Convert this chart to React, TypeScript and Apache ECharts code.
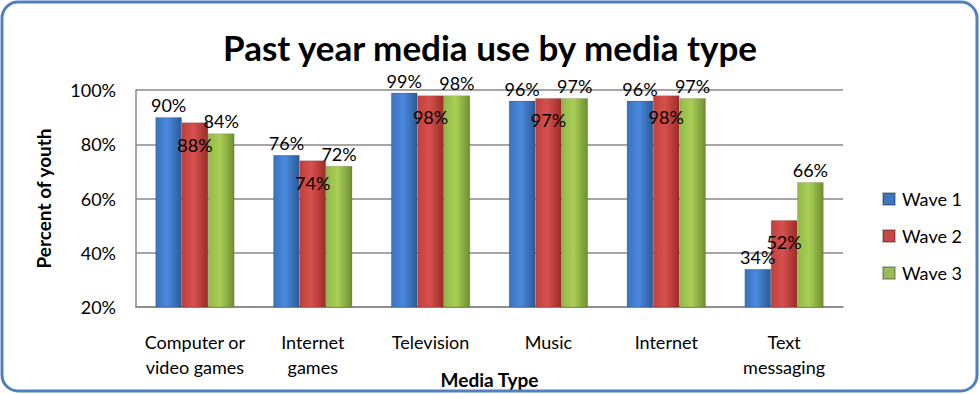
import React, { useEffect, useRef } from "react";
import * as echarts from "echarts";

const categories = ["Computer or\nvideo games", "Internet\ngames", "Television", "Music", "Internet", "Text\nmessaging"];
const wave1 = [90, 76, 99, 96, 96, 34];
const wave2 = [88, 74, 98, 97, 98, 52];
const wave3 = [84, 72, 98, 97, 97, 66];
const seriesNames = ["Wave 1", "Wave 2", "Wave 3"];
const yTicks = { min: 20, max: 100, interval: 20 };

const FONT = "Lato, 'Open Sans', sans-serif";

function grad(c1: string, c2: string, c3: string) {
  return new echarts.graphic.LinearGradient(0, 0, 1, 0, [
    { offset: 0, color: c1 },
    { offset: 0.45, color: c2 },
    { offset: 1, color: c3 },
  ]);
}

export default function App() {
  const ref = useRef<HTMLDivElement>(null);
  useEffect(() => {
    if (!ref.current) return;
    const chart = echarts.init(ref.current, undefined, { renderer: "svg" });
    const colors = [
      grad("#3a72bd", "#4a8ade", "#2c5a96"),
      grad("#c2403c", "#d6514d", "#9c2c29"),
      grad("#93b84a", "#a9cf55", "#6f8f30"),
    ];
    const legendColors = ["#3f76bf", "#c84744", "#9bbb59"];
    const mk = (i: number, data: number[], pos: string, dist: number) => ({
      name: seriesNames[i],
      type: "bar",
      data,
      barGap: "0%",
      barCategoryGap: "33%",
      itemStyle: { color: colors[i], borderColor: "rgba(0,0,0,0.25)", borderWidth: 0.5 },
      label: {
        show: true,
        position: pos,
        distance: dist,
        formatter: "{c}%",
        fontFamily: FONT,
        fontSize: 18,
        color: "#000",
      },
    });
    chart.setOption({
      animation: false,
      backgroundColor: "#fff",
      textStyle: { fontFamily: FONT },
      title: {
        text: "Past year media use by media type",
        left: "center",
        top: 24,
        textStyle: { fontFamily: FONT, fontSize: 35, fontWeight: "bold", color: "#000" },
      },
      grid: { left: 136, right: 137, top: 90, bottom: 87, outerBoundsMode: "none", containLabel: false },
      legend: {
        orient: "vertical",
        left: 877,
        top: 185,
        itemWidth: 12,
        itemHeight: 12,
        itemGap: 19,
        icon: "rect",
        data: seriesNames.map((n, i) => ({ name: n, itemStyle: { color: legendColors[i] } })),
        textStyle: { fontFamily: FONT, fontSize: 18, lineHeight: 18, color: "#000", padding: [0, 0, 0, 2] },
      },
      xAxis: {
        type: "category",
        data: categories,
        name: "Media Type",
        nameLocation: "middle",
        nameGap: 63,
        nameMoveOverlap: false,
        nameTextStyle: { fontFamily: FONT, fontSize: 19, fontWeight: "bold", color: "#000" },
        axisLine: { lineStyle: { color: "#888", width: 1.5 } },
        axisTick: { show: false },
        axisLabel: { interval: 0, fontFamily: FONT, fontSize: 18, color: "#000", margin: 22, lineHeight: 25 },
      },
      yAxis: {
        type: "value",
        min: yTicks.min,
        max: yTicks.max,
        interval: yTicks.interval,
        name: "Percent of youth",
        nameLocation: "middle",
        nameGap: 83,
        nameMoveOverlap: false,
        nameTextStyle: { fontFamily: FONT, fontSize: 19, fontWeight: "bold", color: "#000" },
        axisLine: { show: true, lineStyle: { color: "#888", width: 1.5 } },
        axisTick: { show: false },
        splitLine: { lineStyle: { color: "#888", width: 1.5 } },
        axisLabel: { fontFamily: FONT, fontSize: 18, color: "#000", margin: 20, formatter: "{value}%" },
      },
      graphic: [
        {
          type: "rect",
          shape: { x: 2, y: 2, width: 975, height: 389, r: 16 },
          style: { fill: "none", stroke: "#4f81bd", lineWidth: 3 },
          z: 100,
        },
      ],
      series: [mk(0, wave1, "top", 3), mk(1, wave2, "insideTop", 13), mk(2, wave3, "top", 3)],
    });
    return () => chart.dispose();
  }, []);
  return <div ref={ref} style={{ position: "fixed", left: 0, top: 0, width: 980, height: 394 }} />;
}
